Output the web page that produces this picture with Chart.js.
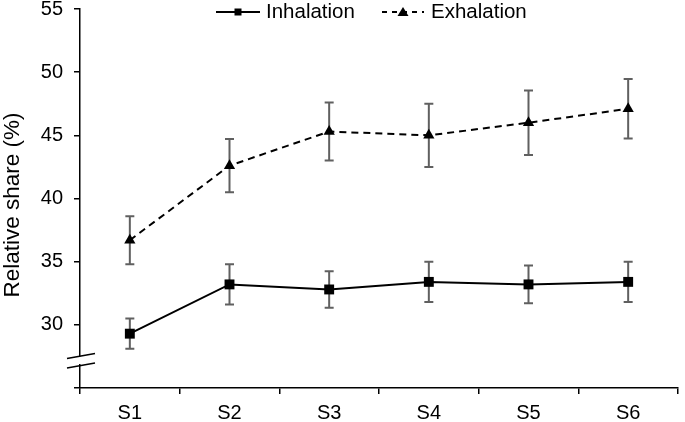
<!DOCTYPE html>
<html>
<head>
<meta charset="utf-8">
<script src="https://cdn.jsdelivr.net/npm/chart.js@4"></script>
<style>
  html, body { margin: 0; padding: 0; background: #fff; }
  #wrap { width: 685px; height: 422px; }
</style>
</head>
<body>
<div id="wrap"><canvas id="chart" width="685" height="422"></canvas></div>
<script>
const stages = ["S1", "S2", "S3", "S4", "S5", "S6"];
const inhalation = [29.3, 33.2, 32.8, 33.4, 33.2, 33.4];
const inhalationErr = [1.2, 1.6, 1.45, 1.6, 1.5, 1.6];
const exhalation = [36.7, 42.6, 45.3, 45.0, 46.0, 47.1];
const exhalationErr = [1.9, 2.1, 2.3, 2.5, 2.55, 2.35];
const yTicks = [25, 30, 35, 40, 45, 50, 55];
const yTitle = "Relative share (%)";

const FONT = "'Liberation Sans', Arial, sans-serif";

// error bars, drawn before the markers so they sit underneath
const errorBars = {
    id: "errorBars",
    beforeDatasetsDraw(chart) {
        const ctx = chart.ctx;
        const y = chart.scales.y;
        const errs = [inhalationErr, exhalationErr];
        ctx.save();
        ctx.strokeStyle = "#606060";
        ctx.lineWidth = 2;
        chart.data.datasets.forEach((ds, i) => {
            const meta = chart.getDatasetMeta(i);
            meta.data.forEach((pt, j) => {
                const top = y.getPixelForValue(ds.data[j] + errs[i][j]);
                const bot = y.getPixelForValue(ds.data[j] - errs[i][j]);
                ctx.beginPath();
                ctx.moveTo(pt.x, top);
                ctx.lineTo(pt.x, bot);
                ctx.moveTo(pt.x - 4.5, top);
                ctx.lineTo(pt.x + 4.5, top);
                ctx.moveTo(pt.x - 4.5, bot);
                ctx.lineTo(pt.x + 4.5, bot);
                ctx.stroke();
            });
        });
        ctx.restore();
    }
};

// legend line+marker, y title and the axis break
const extras = {
    id: "extras",
    afterDraw(chart) {
        const ctx = chart.ctx;
        ctx.save();
        ctx.strokeStyle = "#000";
        ctx.fillStyle = "#000";
        ctx.lineWidth = 2;
        const ly = 12;
        // Inhalation
        ctx.beginPath();
        ctx.moveTo(216, ly);
        ctx.lineTo(260, ly);
        ctx.stroke();
        ctx.fillRect(234.5, ly - 3.5, 7, 7);
        // Exhalation
        ctx.setLineDash([5, 5]);
        ctx.beginPath();
        ctx.moveTo(382, ly);
        ctx.lineTo(424, ly);
        ctx.stroke();
        ctx.setLineDash([]);
        ctx.beginPath();
        ctx.moveTo(403, ly - 5);
        ctx.lineTo(408.5, ly + 4);
        ctx.lineTo(397.5, ly + 4);
        ctx.closePath();
        ctx.fill();
        ctx.font = "20.5px " + FONT;
        ctx.textBaseline = "middle";
        ctx.textAlign = "left";
        ctx.fillText("Inhalation", 266, ly);
        ctx.fillText("Exhalation", 431, ly);

        // y title
        ctx.save();
        ctx.translate(13, 205);
        ctx.rotate(-Math.PI / 2);
        ctx.textAlign = "center";
        ctx.font = "22.5px " + FONT;
        ctx.fillText(yTitle, 0, 0);
        ctx.restore();

        // axis break
        const ys = chart.scales.y;
        const x0 = chart.chartArea.left;
        const gTop = ys.getPixelForValue(27.5);
        const gBot = ys.getPixelForValue(26.9);
        ctx.fillStyle = "#fff";
        ctx.fillRect(x0 - 2, gTop, 4, gBot - gTop);
        ctx.strokeStyle = "#000";
        ctx.lineWidth = 1.5;
        ctx.beginPath();
        ctx.moveTo(x0 - 13, gTop + 2);
        ctx.lineTo(x0 + 15, gTop - 3);
        ctx.moveTo(x0 - 13, gBot + 4);
        ctx.lineTo(x0 + 15, gBot - 1);
        ctx.stroke();
        ctx.restore();
    }
};

new Chart(document.getElementById("chart"), {
    type: "line",
    data: {
        labels: stages,
        datasets: [
            {
                label: "Inhalation",
                data: inhalation,
                borderColor: "#000",
                backgroundColor: "#000",
                borderWidth: 2,
                pointStyle: "rect",
                pointRadius: 7,
                pointBorderWidth: 0,
                tension: 0
            },
            {
                label: "Exhalation",
                data: exhalation,
                borderColor: "#000",
                backgroundColor: "#000",
                borderWidth: 2,
                borderDash: [7, 5],
                pointStyle: "triangle",
                pointRadius: 6.5,
                pointBorderWidth: 0,
                tension: 0
            }
        ]
    },
    options: {
        responsive: false,
        animation: false,
        layout: { padding: { top: 9, right: 2, left: 0, bottom: 0 } },
        plugins: {
            legend: { display: false },
            tooltip: { enabled: false }
        },
        scales: {
            x: {
                offset: true,
                grid: {
                    display: true,
                    drawOnChartArea: false,
                    drawTicks: true,
                    offset: true,
                    tickLength: 6,
                    color: "#000",
                    lineWidth: 1.5
                },
                border: { display: true, color: "#000", width: 1.5 },
                ticks: {
                    color: "#000",
                    font: { family: FONT, size: 20 },
                    padding: 7,
                    maxRotation: 0
                },
                afterFit(s) {
                    s.height = 34;
                    s.paddingLeft = 0;
                    s.paddingRight = 0;
                }
            },
            y: {
                min: 25,
                max: 55,
                afterBuildTicks(s) {
                    s.ticks = yTicks.map(v => ({ value: v }));
                },
                grid: {
                    display: true,
                    drawOnChartArea: false,
                    drawTicks: true,
                    tickLength: 6,
                    color: "#000",
                    lineWidth: 1.5
                },
                border: { display: true, color: "#000", width: 1.5 },
                ticks: {
                    color: "#000",
                    font: { family: FONT, size: 20 },
                    padding: 11,
                    callback: v => (v === 25 ? "" : v)
                },
                afterFit(s) {
                    s.width = 80;
                    s.paddingTop = 0;
                    s.paddingBottom = 0;
                }
            }
        }
    },
    plugins: [errorBars, extras]
});
</script>
</body>
</html>
